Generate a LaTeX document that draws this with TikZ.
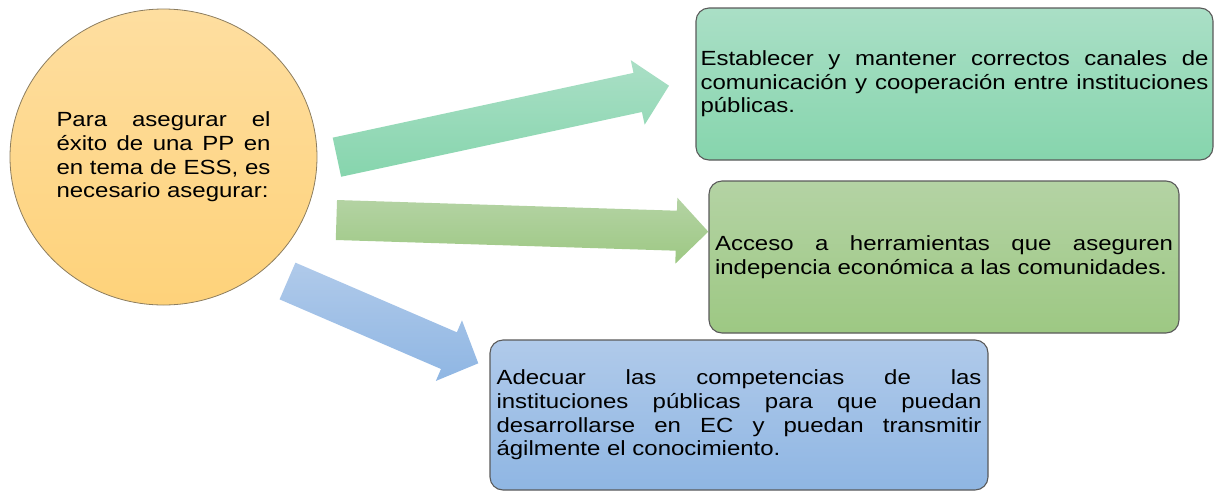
\documentclass[tikz,border=0pt]{standalone}
\usepackage{fontspec}
\setmainfont[FakeStretch=1.17]{Liberation Sans}
\usetikzlibrary{
    shapes.geometric,
    calc,
}

\definecolor{ovalTop}{RGB}{254,222,160}
\definecolor{ovalBot}{RGB}{254,210,122}
\definecolor{ovalLine}{RGB}{140,125,95}
\definecolor{boxLine}{RGB}{90,90,90}
\definecolor{mintTop}{RGB}{170,223,198}
\definecolor{mintBot}{RGB}{134,213,173}
\definecolor{leafTop}{RGB}{180,211,164}
\definecolor{leafBot}{RGB}{157,200,131}
\definecolor{skyTop}{RGB}{176,202,234}
\definecolor{skyBot}{RGB}{143,182,227}

\begin{document}
\begin{tikzpicture}[
    x=1pt, y=-1pt,
    font=\fontsize{20.5}{23.6}\selectfont,
    oval/.style={ellipse, draw=ovalLine, line width=0.8pt, inner sep=0pt,
                top color=ovalTop, bottom color=ovalBot,
                minimum width=307pt, minimum height=296pt,
                text width=214pt, align=justify},
    goal/.style={draw=boxLine, line width=1.1pt, rounded corners=13pt,
                inner sep=0pt, minimum height=152pt, align=justify},
    fatarrow/.style={to path={
        -- ($(\tikztostart)!20pt!90:(\tikztotarget)$)
        -- ($($(\tikztotarget)!32pt!(\tikztostart)$)!20pt!90:(\tikztotarget)$)
        -- ($($(\tikztotarget)!32pt!(\tikztostart)$)!33pt!90:(\tikztotarget)$)
        -- (\tikztotarget)
        -- ($($(\tikztotarget)!32pt!(\tikztostart)$)!33pt!-90:(\tikztotarget)$)
        -- ($($(\tikztotarget)!32pt!(\tikztostart)$)!20pt!-90:(\tikztotarget)$)
        -- ($(\tikztostart)!20pt!-90:(\tikztotarget)$) -- cycle}},
]
\useasboundingbox (0,0) rectangle (1215,491);

\node[oval] at (163.5,157) (idea) {Para asegurar el\linebreak
    éxito de una PP en\linebreak en tema de ESS, es\linebreak necesario asegurar:};

% arrows
\coordinate (fromA) at (336.9,157.2);
\coordinate (toA) at (669,85.7);
\coordinate (fromB) at (336.4,220);
\coordinate (toB) at (708.3,231.7);
\coordinate (fromC) at (287.5,281);
\coordinate (toC) at (478.3,363.3);

\path[fatarrow, top color=mintTop, bottom color=mintBot] (fromA) to (toA);
\path[fatarrow, top color=leafTop, bottom color=leafBot] (fromB) to (toB);
\path[fatarrow, top color=skyTop, bottom color=skyBot] (fromC) to (toC);

\node[goal, top color=mintTop, bottom color=mintBot, minimum width=517pt,
    text width=508pt] at (954.5,84) (canales) {Establecer y mantener correctos canales de\linebreak
    comunicación y cooperación entre instituciones\linebreak públicas.};
\node[goal, top color=leafTop, bottom color=leafBot, minimum width=470pt,
    text width=458pt] at (944,257) (acceso) {Acceso a herramientas que aseguren\linebreak
    indepencia económica a las comunidades.};
\node[goal, top color=skyTop, bottom color=skyBot, minimum width=498pt,
    minimum height=150pt, text width=485pt] at (739,415) (competencias) {Adecuar las competencias de las\linebreak
    instituciones públicas para que puedan\linebreak desarrollarse en EC y puedan transmitir\linebreak
    ágilmente el conocimiento.};

\end{tikzpicture}
\end{document}
